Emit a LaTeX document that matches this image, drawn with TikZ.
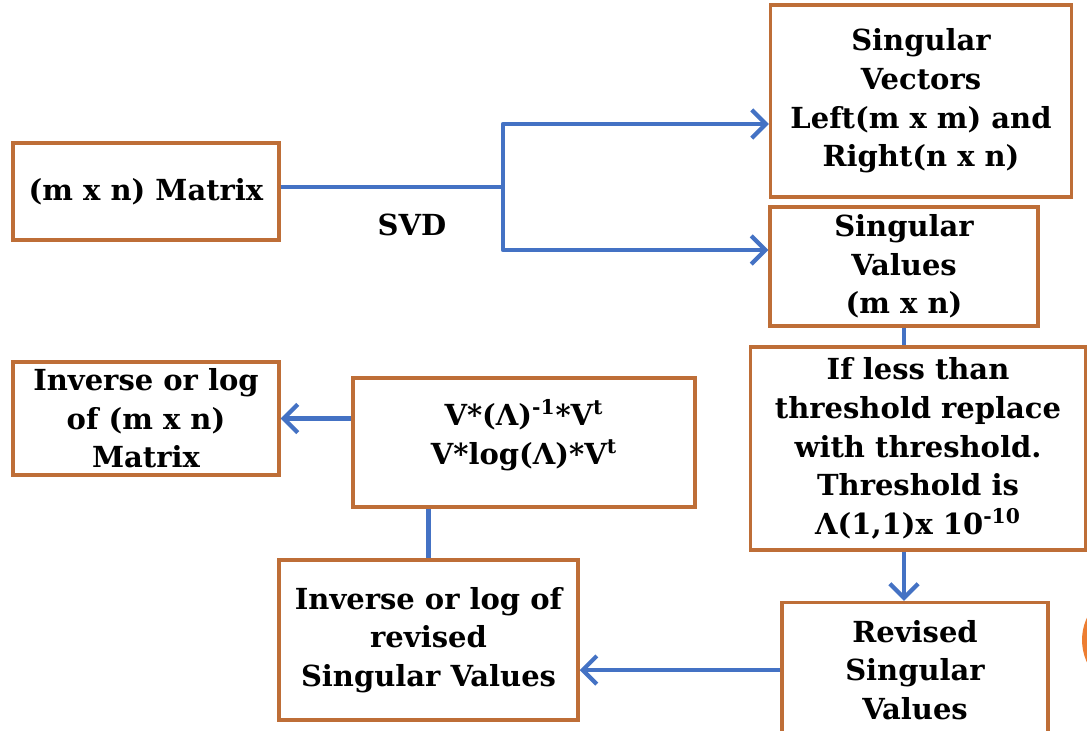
\documentclass[tikz,border=0pt]{standalone}
\usepackage{fontspec}
\setmainfont{DejaVu Serif}
\usetikzlibrary{arrows.meta}
\definecolor{boxline}{RGB}{190,110,55}
\definecolor{flowblue}{RGB}{68,114,196}
\definecolor{dotorange}{RGB}{237,125,49}

\begin{document}
\begin{tikzpicture}[x=0.02cm, y=-0.02cm,
	box/.style={draw=boxline, line width=2pt, align=center, inner sep=0pt,
		font=\fontsize{16.5}{22}\selectfont\bfseries},
	link/.style={draw=flowblue, line width=2.4pt, line join=round},
	flow/.style={link, -{Straight Barb[length=8pt, width=16pt, line width=2.4pt]}}]
						
						\clip (0,0) rectangle (1087,730);
						\fill[white] (0,0) rectangle (1087,730);
						\fill[dotorange] (1135,640) circle (1.06cm);
						
						\node[box, minimum width=5.32cm, minimum height=1.94cm] (mat) at (146,191.5) {(m x n) Matrix};
						\node[box, minimum width=6.02cm, minimum height=3.84cm] (vecs) at (921,101) {Singular\\Vectors\\Left(m x m) and\\Right(n x n)};
						\node[box, minimum width=5.36cm, minimum height=2.38cm] (vals) at (904,266.5) {Singular\\Values\\(m x n)};
						\node[box, minimum width=6.70cm, minimum height=4.06cm] (thr) at (918,448.5) {If less than\\threshold replace\\with threshold.\\Threshold is\\Λ(1,1)x 10\textsuperscript{-10}};
						\node[box, minimum width=5.32cm, minimum height=2.70cm] (rev) at (915,670) {Revised\\Singular\\Values};
						\node[box, minimum width=5.98cm, minimum height=3.20cm] (invrev) at (428.5,640) {Inverse or log of\\revised\\Singular Values};
						\node[box, minimum width=6.84cm, minimum height=2.58cm] (formula) at (524,442.5) {V*(Λ)\textsuperscript{-1}*V\textsuperscript{t}\\V*log(Λ)*V\textsuperscript{t}\\[-10pt]\mbox{}};
						\node[box, minimum width=5.32cm, minimum height=2.26cm] (result) at (146,418.5) {Inverse or log\\of (m x n)\\Matrix};
						\node[font=\fontsize{16.5}{20}\selectfont\bfseries] (svd) at (412,225) {SVD};
						
						\coordinate (split) at (503,187);
						\draw[link] (mat.east |- split) -- (split);
						\draw[flow] (split) |- ([yshift=-0.46cm]vecs.west);
						\draw[flow] (split) |- ([yshift=0.33cm]vals.west);
						\draw[link] (vals.south) -- (vals.south |- thr.north);
						\draw[flow] (vals.south |- thr.south) -- (vals.south |- rev.north);
						\draw[flow] (rev.west) -- (rev.west -| invrev.east);
						\draw[link] (invrev.north) -- (invrev.north |- formula.south);
						\draw[flow] (result.east -| formula.west) -- (result.east);
					\end{tikzpicture}
\end{document}
